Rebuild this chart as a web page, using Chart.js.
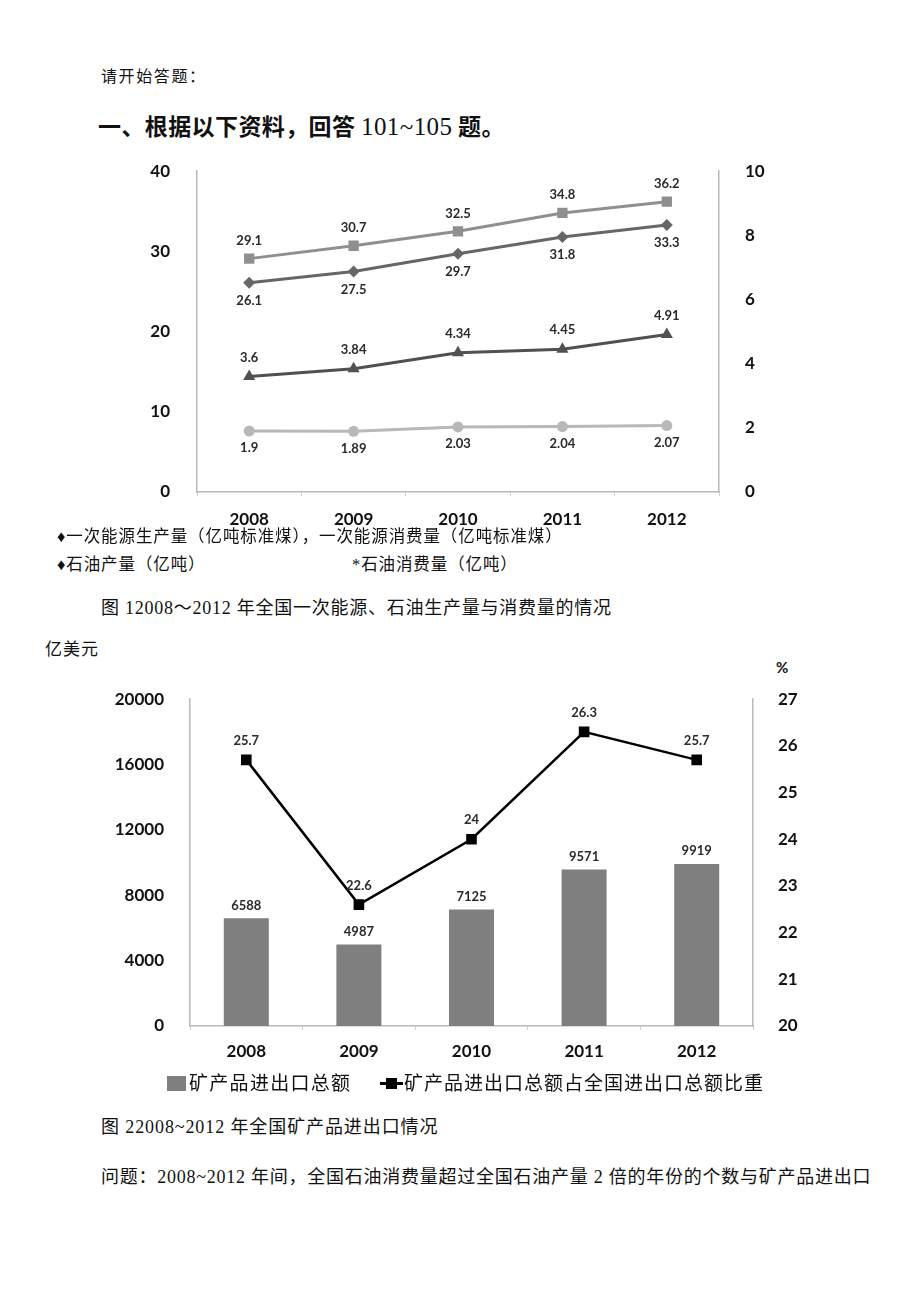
<!DOCTYPE html>
<html>
<head>
<meta charset="utf-8">
<script src="https://cdn.jsdelivr.net/npm/chart.js@4.4.1/dist/chart.umd.min.js"></script>
<style>
  body { margin: 0; background: #fff; }
  #page { position: relative; width: 920px; height: 1301px; overflow: hidden; background: #fff; }
  .t { position: absolute; white-space: nowrap; color: #111; line-height: 24px;
       font-family: "Liberation Serif", "Noto Sans CJK SC", serif; }
  canvas { position: absolute; }
</style>
</head>
<body>
<div id="page">
  <div class="t" style="left:101px; top:65px; font-size:16px; letter-spacing:1.6px;">请开始答题：</div>
  <div class="t" style="left:98px; top:111px; font-size:23px; line-height:28px; font-family:'Noto Sans CJK SC'; font-weight:bold; letter-spacing:0.4px;">一、根据以下资料，回答 <span style="font-family:'Liberation Serif'; font-weight:normal; font-size:25px;">101~105</span> 题。</div>

  <!-- chart area top ends up ~28px below the canvas top because of the tick label padding -->
  <canvas id="energy-chart" width="640" height="398" style="left:140px; top:142px;"></canvas>

  <div class="t" style="left:57px; top:525px; font-size:16.5px; letter-spacing:0.9px;">♦一次能源生产量（亿吨标准煤），一次能源消费量（亿吨标准煤）</div>
  <div class="t" style="left:57px; top:553px; font-size:16.5px; letter-spacing:0.9px;">♦石油产量（亿吨）</div>
  <div class="t" style="left:352px; top:553px; font-size:16.5px; letter-spacing:0.9px;">*石油消费量（亿吨）</div>
  <div class="t" style="left:101px; top:596px; font-size:18px; letter-spacing:0.75px;">图 12008～2012 年全国一次能源、石油生产量与消费量的情况</div>
  <div class="t" style="left:45px; top:638px; font-size:17px; letter-spacing:1px;">亿美元</div>
  <div class="t" style="left:776px; top:655px; font-size:15px; font-weight:bold; font-family:Lato;">%</div>

  <canvas id="mineral-chart" width="720" height="409" style="left:100px; top:671px;"></canvas>

  <div class="t" style="left:167px; top:1072px; font-size:19px; letter-spacing:1.3px;"><span style="display:inline-block; width:19px; height:15px; background:#7f7f7f; vertical-align:-1px; margin-right:3px;"></span>矿产品进出口总额</div>
  <div class="t" style="left:380px; top:1072px; font-size:19px; letter-spacing:1px;"><span style="display:inline-block; position:relative; width:23px; height:15px; vertical-align:-1px; margin-right:1px;"><span style="position:absolute; left:0; top:6px; width:23px; height:3px; background:#000;"></span><span style="position:absolute; left:6px; top:2px; width:11px; height:11px; background:#000;"></span></span>矿产品进出口总额占全国进出口总额比重</div>

  <div class="t" style="left:101px; top:1115px; font-size:18px; letter-spacing:0.9px;">图 22008~2012 年全国矿产品进出口情况</div>
  <div class="t" style="left:101px; top:1165px; font-size:18px; letter-spacing:0.75px;">问题：2008~2012 年间，全国石油消费量超过全国石油产量 2 倍的年份的个数与矿产品进出口</div>
</div>

<script>
// chart 1 data
const years = ['2008', '2009', '2010', '2011', '2012'];
const energyConsumption = [29.1, 30.7, 32.5, 34.8, 36.2];
const energyProduction = [26.1, 27.5, 29.7, 31.8, 33.3];
const oilConsumption = [3.6, 3.84, 4.34, 4.45, 4.91];
const oilProduction = [1.9, 1.89, 2.03, 2.04, 2.07];
const energyTicks = [0, 10, 20, 30, 40];
const oilTicks = [0, 2, 4, 6, 8, 10];

// chart 2 data
const mineralTrade = [6588, 4987, 7125, 9571, 9919];
const mineralShare = [25.7, 22.6, 24, 26.3, 25.7];
const tradeTicks = [0, 4000, 8000, 12000, 16000, 20000];
const shareTicks = [20, 21, 22, 23, 24, 25, 26, 27];

const tickFont = { family: 'Lato', size: 17, weight: 'bold' };
const axisColor = '#b9b9b9';

// draws the value next to every point / bar
const valueLabels = {
    id: 'valueLabels',
    afterDatasetsDraw(chart) {
        const ctx = chart.ctx;
        chart.data.datasets.forEach((ds, i) => {
            const meta = chart.getDatasetMeta(i);
            ctx.save();
            ctx.font = 'bold 13px Lato';
            ctx.fillStyle = '#2a2a2a';
            ctx.textAlign = 'center';
            ctx.textBaseline = 'middle';
            meta.data.forEach((el, j) => {
                ctx.fillText(String(ds.data[j]), el.x, el.y + ds.labelOffset);
            });
            ctx.restore();
        });
    }
};

function fixedWidth(w) {
    return scale => { scale.width = w; };
}
function fixedHeight(h) {
    return scale => { scale.height = h; };
}
function setTicks(list) {
    return scale => { scale.ticks = list.map(v => ({ value: v })); };
}

function lineSet(label, data, color, style, radius, axis, offset) {
    return {
        label: label,
        data: data,
        yAxisID: axis,
        borderColor: color,
        backgroundColor: color,
        borderWidth: 3,
        pointStyle: style,
        pointRadius: radius,
        pointBorderWidth: 0,
        tension: 0,
        labelOffset: offset
    };
}

function sideAxis(pos, min, max, width, list, pad) {
    return {
        position: pos,
        min: min, max: max,
        afterFit: fixedWidth(width),
        afterBuildTicks: setTicks(list),
        border: { color: axisColor, width: 1.5 },
        grid: { display: false },
        ticks: { font: tickFont, color: '#111', padding: pad, callback: v => String(v) }
    };
}

new Chart(document.querySelector('#energy-chart'), {
    type: 'line',
    data: {
        labels: years,
        datasets: [
            lineSet('一次能源消费量', energyConsumption, '#8f8f8f', 'rect', 7.3, 'y', -18),
            lineSet('一次能源生产量', energyProduction, '#666666', 'rectRot', 6, 'y', 18),
            lineSet('石油消费量', oilConsumption, '#505050', 'triangle', 7, 'y2', -19),
            lineSet('石油产量', oilProduction, '#b8b8b8', 'circle', 5.5, 'y2', 17)
        ]
    },
    options: {
        responsive: false,
        animation: false,
        layout: { padding: 0 },
        plugins: { legend: { display: false }, tooltip: { enabled: false } },
        scales: {
            x: {
                offset: true,
                afterFit: fixedHeight(48),
                border: { color: axisColor, width: 1.5 },
                grid: { offset: true, drawOnChartArea: false, drawTicks: true, tickLength: 4, color: '#d0d0d0' },
                ticks: { font: tickFont, color: '#111', padding: 13 }
            },
            y: sideAxis('left', 0, 40, 57, energyTicks, 19),
            y2: sideAxis('right', 0, 10, 61, oilTicks, 18)
        }
    },
    plugins: [valueLabels]
});

new Chart(document.querySelector('#mineral-chart'), {
    type: 'bar',
    data: {
        labels: years,
        datasets: [
            {
                type: 'line',
                label: '矿产品进出口总额占全国进出口总额比重',
                data: mineralShare,
                yAxisID: 'y2',
                borderColor: '#000',
                backgroundColor: '#000',
                borderWidth: 2.5,
                pointStyle: 'rect',
                pointRadius: 7.5,
                pointBorderWidth: 0,
                order: 0,
                labelOffset: -19
            },
            {
                type: 'bar',
                label: '矿产品进出口总额',
                data: mineralTrade,
                yAxisID: 'y',
                backgroundColor: '#7f7f7f',
                barPercentage: 0.4,
                categoryPercentage: 1,
                order: 1,
                labelOffset: -13
            }
        ]
    },
    options: {
        responsive: false,
        animation: false,
        layout: { padding: 0 },
        plugins: { legend: { display: false }, tooltip: { enabled: false } },
        scales: {
            x: {
                afterFit: fixedHeight(54),
                border: { color: axisColor, width: 1.5 },
                grid: { offset: true, drawOnChartArea: false, drawTicks: true, tickLength: 4, color: '#d0d0d0' },
                ticks: { font: tickFont, color: '#111', padding: 11 }
            },
            y: sideAxis('left', 0, 20000, 90, tradeTicks, 18),
            y2: sideAxis('right', 20, 27, 67, shareTicks, 17)
        }
    },
    plugins: [valueLabels]
});
</script>
</body>
</html>
